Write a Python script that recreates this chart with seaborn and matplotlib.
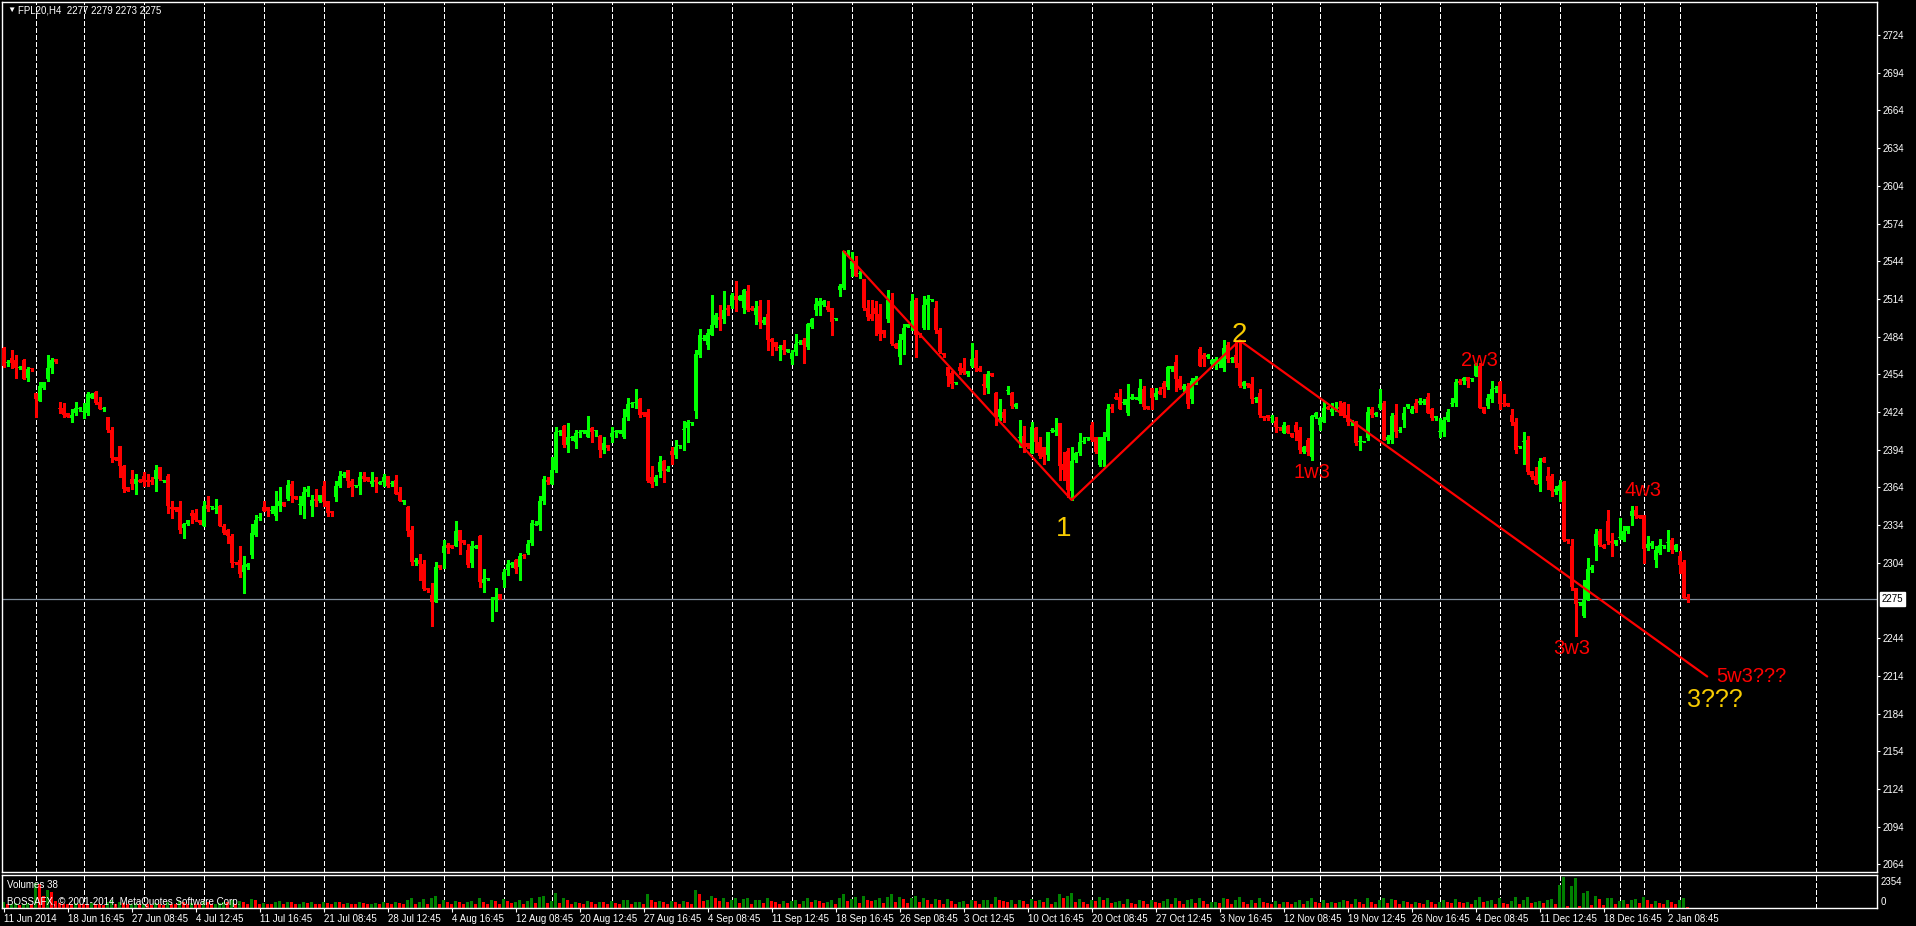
import numpy as np
import pandas as pd
import matplotlib
matplotlib.use("Agg")
import matplotlib.pyplot as plt
import seaborn as sns

# H4 candles of FPL20, 11 Jun 2014 -> 5 Jan 2015
OPEN = [
    2475, 2463, 2467, 2465, 2459, 2465, 2451, 2459, 2439, 2433, 2443, 2450, 2459, 2466, 2427, 2427,
    2423, 2419, 2423, 2426, 2424, 2423, 2435, 2440, 2432, 2426, 2420, 2410, 2388, 2397, 2381, 2364,
    2371, 2367, 2370, 2373, 2370, 2370, 2371, 2380, 2369, 2373, 2348, 2348, 2348, 2332, 2335, 2344,
    2344, 2338, 2333, 2350, 2348, 2347, 2349, 2333, 2330, 2325, 2305, 2306, 2297, 2301, 2310, 2326,
    2340, 2348, 2348, 2345, 2341, 2349, 2352, 2355, 2367, 2357, 2350, 2349, 2360, 2349, 2355, 2353,
    2365, 2353, 2345, 2356, 2365, 2373, 2378, 2369, 2365, 2365, 2373, 2372, 2367, 2370, 2367, 2368,
    2373, 2367, 2370, 2360, 2352, 2348, 2330, 2305, 2306, 2303, 2284, 2278, 2273, 2302, 2312, 2318,
    2318, 2317, 2330, 2322, 2314, 2304, 2316, 2325, 2288, 2291, 2274, 2274, 2279, 2290, 2298, 2302,
    2306, 2301, 2310, 2312, 2320, 2334, 2334, 2353, 2370, 2367, 2378, 2408, 2413, 2398, 2403, 2400,
    2407, 2408, 2404, 2411, 2409, 2405, 2394, 2398, 2404, 2408, 2407, 2404, 2420, 2430, 2431, 2434,
    2424, 2424, 2372, 2368, 2376, 2385, 2377, 2393, 2390, 2397, 2410, 2411, 2415, 2425, 2469, 2482,
    2477, 2485, 2493, 2500, 2498, 2507, 2508, 2516, 2513, 2507, 2520, 2507, 2501, 2508, 2495, 2502,
    2482, 2480, 2475, 2477, 2472, 2466, 2472, 2479, 2481, 2476, 2492, 2505, 2508, 2509, 2508, 2507,
    2498, 2521, 2523, 2550, 2538, 2544, 2534, 2530, 2507, 2502, 2507, 2502, 2489, 2498, 2513, 2478,
    2468, 2481, 2492, 2497, 2513, 2487, 2491, 2509, 2513, 2507, 2489, 2471, 2460, 2455, 2447, 2460,
    2459, 2454, 2461, 2467, 2459, 2446, 2443, 2455, 2439, 2420, 2424, 2441, 2439, 2428, 2403, 2405,
    2399, 2391, 2411, 2400, 2396, 2390, 2409, 2408, 2415, 2383, 2393, 2361, 2386, 2391, 2400, 2403,
    2414, 2404, 2382, 2386, 2404, 2428, 2436, 2436, 2431, 2423, 2434, 2434, 2433, 2442, 2429, 2443,
    2436, 2441, 2447, 2444, 2458, 2464, 2450, 2442, 2445, 2434, 2447, 2474, 2469, 2468, 2462, 2463,
    2462, 2459, 2477, 2466, 2469, 2463, 2445, 2447, 2446, 2434, 2439, 2421, 2422, 2419, 2417, 2412,
    2407, 2413, 2407, 2414, 2410, 2392, 2402, 2388, 2420, 2414, 2416, 2428, 2424, 2426, 2428, 2431,
    2422, 2416, 2416, 2400, 2400, 2403, 2426, 2422, 2427, 2431, 2402, 2402, 2422, 2409, 2418, 2428,
    2423, 2431, 2431, 2431, 2436, 2426, 2419, 2408, 2408, 2418, 2430, 2431, 2449, 2449, 2452, 2450,
    2453, 2461, 2428, 2429, 2434, 2442, 2448, 2431, 2431, 2422, 2416, 2396, 2400, 2402, 2377, 2373,
    2367, 2387, 2373, 2373, 2360, 2361, 2368, 2323, 2317, 2284, 2272, 2262, 2274, 2298, 2317, 2329,
    2318, 2337, 2321, 2319, 2324, 2322, 2329, 2341, 2346, 2342, 2342, 2316, 2317, 2306, 2312, 2317,
    2320, 2322, 2314, 2309, 2305, 2277,
]
HIGH = [
    2476, 2465, 2473, 2469, 2461, 2466, 2460, 2459, 2439, 2448, 2448, 2469, 2467, 2466, 2432, 2431,
    2423, 2426, 2432, 2428, 2431, 2440, 2439, 2441, 2436, 2428, 2420, 2412, 2388, 2397, 2382, 2364,
    2378, 2375, 2371, 2376, 2375, 2372, 2382, 2380, 2370, 2375, 2353, 2348, 2353, 2336, 2338, 2346,
    2347, 2338, 2353, 2357, 2349, 2355, 2350, 2335, 2331, 2327, 2305, 2317, 2309, 2304, 2335, 2342,
    2344, 2353, 2348, 2349, 2361, 2364, 2352, 2370, 2369, 2357, 2357, 2364, 2365, 2358, 2363, 2358,
    2369, 2353, 2345, 2369, 2377, 2376, 2378, 2371, 2366, 2376, 2376, 2372, 2376, 2372, 2369, 2375,
    2373, 2369, 2374, 2364, 2354, 2349, 2333, 2308, 2311, 2306, 2284, 2288, 2305, 2302, 2322, 2320,
    2318, 2337, 2330, 2322, 2319, 2321, 2318, 2326, 2299, 2292, 2277, 2284, 2279, 2299, 2306, 2305,
    2307, 2312, 2311, 2322, 2338, 2337, 2357, 2373, 2372, 2388, 2412, 2410, 2414, 2415, 2405, 2410,
    2410, 2410, 2421, 2412, 2410, 2406, 2404, 2398, 2412, 2410, 2410, 2426, 2435, 2432, 2442, 2435,
    2424, 2426, 2381, 2374, 2389, 2386, 2381, 2396, 2402, 2398, 2417, 2418, 2416, 2473, 2490, 2485,
    2490, 2517, 2503, 2509, 2520, 2509, 2519, 2528, 2517, 2522, 2525, 2508, 2512, 2513, 2500, 2513,
    2483, 2480, 2477, 2481, 2474, 2473, 2486, 2481, 2483, 2495, 2499, 2515, 2515, 2513, 2512, 2507,
    2499, 2526, 2552, 2553, 2551, 2548, 2536, 2530, 2513, 2513, 2512, 2510, 2489, 2521, 2519, 2479,
    2486, 2494, 2494, 2518, 2515, 2487, 2516, 2517, 2514, 2512, 2491, 2471, 2460, 2457, 2448, 2463,
    2467, 2457, 2479, 2473, 2461, 2454, 2457, 2455, 2440, 2434, 2426, 2445, 2440, 2431, 2418, 2413,
    2399, 2416, 2412, 2404, 2396, 2408, 2411, 2419, 2415, 2392, 2395, 2396, 2392, 2407, 2404, 2404,
    2416, 2404, 2404, 2408, 2430, 2430, 2439, 2442, 2434, 2446, 2438, 2436, 2450, 2445, 2429, 2443,
    2443, 2444, 2449, 2461, 2461, 2469, 2453, 2446, 2447, 2451, 2453, 2476, 2471, 2470, 2466, 2468,
    2467, 2481, 2480, 2468, 2480, 2481, 2449, 2447, 2452, 2436, 2442, 2421, 2422, 2422, 2420, 2412,
    2416, 2414, 2407, 2416, 2412, 2397, 2403, 2422, 2424, 2420, 2432, 2429, 2431, 2432, 2433, 2432,
    2430, 2418, 2417, 2405, 2401, 2428, 2428, 2424, 2442, 2433, 2406, 2423, 2430, 2412, 2428, 2430,
    2429, 2434, 2435, 2434, 2439, 2427, 2421, 2419, 2420, 2426, 2435, 2450, 2450, 2452, 2452, 2451,
    2463, 2463, 2428, 2438, 2449, 2445, 2449, 2438, 2431, 2426, 2419, 2397, 2408, 2405, 2377, 2380,
    2387, 2388, 2380, 2375, 2365, 2370, 2369, 2323, 2323, 2284, 2273, 2290, 2308, 2302, 2331, 2331,
    2319, 2346, 2328, 2322, 2340, 2333, 2333, 2349, 2349, 2342, 2342, 2325, 2321, 2317, 2323, 2318,
    2330, 2324, 2319, 2313, 2306, 2279,
]
LOW = [
    2460, 2461, 2459, 2451, 2458, 2450, 2449, 2457, 2420, 2433, 2442, 2449, 2455, 2463, 2423, 2420,
    2420, 2416, 2422, 2425, 2419, 2422, 2435, 2430, 2426, 2425, 2408, 2384, 2386, 2372, 2360, 2361,
    2363, 2359, 2368, 2365, 2365, 2367, 2361, 2370, 2368, 2344, 2340, 2345, 2328, 2324, 2334, 2336,
    2337, 2335, 2333, 2345, 2347, 2344, 2333, 2327, 2320, 2301, 2303, 2293, 2280, 2299, 2308, 2325,
    2338, 2345, 2341, 2344, 2338, 2345, 2349, 2354, 2352, 2355, 2343, 2340, 2357, 2341, 2349, 2352,
    2349, 2341, 2341, 2353, 2364, 2372, 2364, 2357, 2364, 2359, 2369, 2369, 2365, 2360, 2367, 2365,
    2364, 2365, 2359, 2353, 2351, 2325, 2302, 2302, 2290, 2282, 2281, 2254, 2273, 2299, 2300, 2312,
    2316, 2317, 2311, 2319, 2301, 2301, 2316, 2285, 2281, 2290, 2258, 2266, 2275, 2285, 2294, 2301,
    2296, 2290, 2308, 2311, 2318, 2334, 2330, 2351, 2367, 2367, 2376, 2406, 2396, 2392, 2402, 2395,
    2404, 2407, 2404, 2400, 2405, 2388, 2391, 2394, 2400, 2404, 2407, 2403, 2418, 2428, 2427, 2420,
    2421, 2368, 2364, 2366, 2372, 2368, 2377, 2383, 2387, 2395, 2394, 2400, 2414, 2419, 2468, 2481,
    2474, 2485, 2492, 2489, 2495, 2501, 2507, 2504, 2513, 2503, 2504, 2505, 2494, 2491, 2494, 2473,
    2469, 2473, 2465, 2470, 2472, 2462, 2469, 2478, 2463, 2474, 2491, 2501, 2501, 2508, 2504, 2485,
    2497, 2516, 2522, 2548, 2532, 2532, 2531, 2505, 2497, 2497, 2485, 2481, 2484, 2496, 2477, 2475,
    2462, 2470, 2492, 2489, 2468, 2484, 2490, 2490, 2512, 2487, 2471, 2468, 2445, 2443, 2446, 2454,
    2454, 2453, 2460, 2457, 2457, 2438, 2439, 2453, 2414, 2418, 2416, 2438, 2427, 2427, 2396, 2392,
    2395, 2391, 2392, 2387, 2383, 2386, 2408, 2406, 2370, 2370, 2356, 2354, 2384, 2390, 2399, 2402,
    2401, 2391, 2381, 2381, 2402, 2424, 2434, 2426, 2430, 2422, 2434, 2434, 2431, 2426, 2426, 2426,
    2434, 2438, 2436, 2442, 2457, 2441, 2442, 2441, 2427, 2431, 2446, 2461, 2461, 2467, 2460, 2458,
    2460, 2457, 2464, 2464, 2460, 2444, 2443, 2444, 2431, 2432, 2420, 2418, 2418, 2416, 2408, 2410,
    2407, 2407, 2404, 2402, 2391, 2391, 2390, 2386, 2419, 2410, 2416, 2426, 2422, 2425, 2422, 2420,
    2414, 2414, 2398, 2394, 2400, 2402, 2420, 2421, 2426, 2402, 2399, 2399, 2404, 2408, 2412, 2427,
    2423, 2424, 2430, 2430, 2423, 2418, 2418, 2404, 2405, 2417, 2429, 2429, 2446, 2446, 2444, 2449,
    2453, 2427, 2423, 2427, 2432, 2440, 2426, 2429, 2429, 2414, 2391, 2395, 2383, 2375, 2371, 2367,
    2361, 2384, 2363, 2357, 2359, 2353, 2321, 2320, 2282, 2246, 2270, 2261, 2274, 2297, 2306, 2317,
    2316, 2319, 2309, 2318, 2323, 2321, 2328, 2334, 2340, 2340, 2304, 2314, 2316, 2301, 2311, 2316,
    2313, 2312, 2313, 2296, 2276, 2273,
]
CLOSE = [
    2461, 2463, 2463, 2459, 2460, 2450, 2458, 2458, 2434, 2445, 2448, 2459, 2465, 2464, 2426, 2422,
    2420, 2422, 2427, 2427, 2424, 2438, 2438, 2431, 2426, 2426, 2410, 2387, 2386, 2381, 2363, 2361,
    2367, 2371, 2368, 2368, 2368, 2368, 2378, 2371, 2369, 2349, 2347, 2346, 2330, 2335, 2338, 2341,
    2338, 2336, 2349, 2347, 2348, 2347, 2333, 2328, 2325, 2304, 2304, 2295, 2302, 2303, 2328, 2338,
    2340, 2345, 2345, 2345, 2349, 2353, 2349, 2366, 2357, 2355, 2350, 2360, 2363, 2354, 2353, 2358,
    2352, 2344, 2344, 2365, 2373, 2375, 2369, 2364, 2365, 2372, 2371, 2369, 2369, 2368, 2368, 2372,
    2365, 2367, 2359, 2353, 2354, 2329, 2305, 2306, 2303, 2283, 2282, 2273, 2301, 2300, 2317, 2316,
    2316, 2329, 2321, 2320, 2302, 2317, 2317, 2289, 2291, 2291, 2274, 2277, 2275, 2297, 2303, 2304,
    2299, 2309, 2309, 2319, 2336, 2335, 2353, 2371, 2368, 2378, 2408, 2408, 2398, 2404, 2404, 2407,
    2407, 2410, 2410, 2408, 2409, 2394, 2399, 2395, 2407, 2408, 2410, 2419, 2430, 2431, 2432, 2422,
    2422, 2369, 2367, 2372, 2384, 2377, 2379, 2390, 2396, 2397, 2410, 2416, 2415, 2470, 2485, 2483,
    2487, 2493, 2501, 2497, 2505, 2505, 2517, 2513, 2516, 2521, 2505, 2505, 2507, 2496, 2497, 2481,
    2480, 2476, 2475, 2473, 2474, 2471, 2478, 2480, 2477, 2494, 2498, 2510, 2512, 2512, 2505, 2496,
    2498, 2524, 2552, 2550, 2544, 2532, 2534, 2507, 2500, 2498, 2502, 2486, 2486, 2513, 2478, 2475,
    2481, 2491, 2494, 2512, 2485, 2485, 2509, 2514, 2513, 2489, 2472, 2469, 2453, 2446, 2447, 2457,
    2455, 2457, 2466, 2459, 2457, 2445, 2454, 2453, 2420, 2426, 2419, 2441, 2429, 2430, 2404, 2396,
    2396, 2412, 2400, 2389, 2388, 2408, 2409, 2410, 2381, 2378, 2362, 2385, 2391, 2400, 2401, 2403,
    2402, 2392, 2404, 2404, 2426, 2426, 2434, 2426, 2431, 2434, 2436, 2436, 2443, 2428, 2426, 2435,
    2439, 2438, 2442, 2460, 2461, 2450, 2443, 2445, 2430, 2449, 2451, 2461, 2466, 2469, 2465, 2466,
    2465, 2475, 2466, 2466, 2463, 2445, 2448, 2445, 2434, 2434, 2422, 2419, 2419, 2419, 2412, 2411,
    2414, 2407, 2404, 2408, 2394, 2396, 2392, 2421, 2423, 2419, 2427, 2426, 2426, 2427, 2426, 2421,
    2416, 2416, 2399, 2400, 2400, 2424, 2422, 2423, 2430, 2402, 2404, 2421, 2408, 2409, 2423, 2430,
    2426, 2426, 2433, 2433, 2423, 2419, 2421, 2408, 2418, 2424, 2431, 2448, 2447, 2451, 2449, 2450,
    2462, 2427, 2423, 2435, 2442, 2442, 2430, 2430, 2429, 2416, 2394, 2397, 2401, 2376, 2372, 2367,
    2385, 2384, 2369, 2361, 2363, 2366, 2322, 2321, 2285, 2271, 2272, 2274, 2299, 2301, 2327, 2318,
    2316, 2321, 2320, 2322, 2324, 2329, 2333, 2345, 2341, 2340, 2315, 2319, 2320, 2314, 2318, 2318,
    2320, 2314, 2318, 2302, 2276, 2275,
]
VOLUME = [
    400, 250, 300, 350, 200, 300, 350, 250, 1900, 1750, 900, 1300, 1200, 500, 350, 300,
    300, 250, 350, 300, 300, 250, 350, 300, 250, 200, 400, 550, 300, 450, 350, 250,
    300, 350, 250, 300, 250, 200, 350, 300, 200, 450, 300, 250, 500, 400, 300, 350,
    300, 250, 500, 400, 250, 300, 350, 450, 400, 550, 250, 500, 450, 300, 650, 550,
    300, 350, 300, 250, 400, 500, 300, 450, 400, 250, 300, 450, 350, 400, 300, 250,
    400, 350, 250, 450, 400, 300, 350, 300, 250, 400, 350, 250, 300, 350, 250, 400,
    350, 250, 400, 350, 250, 600, 750, 300, 450, 650, 300, 700, 900, 300, 550, 400,
    300, 500, 400, 250, 450, 500, 300, 700, 450, 250, 600, 500, 300, 650, 500, 350,
    400, 550, 300, 500, 700, 350, 800, 900, 350, 500, 1100, 350, 700, 600, 300, 450,
    350, 300, 500, 400, 300, 450, 400, 300, 500, 350, 300, 550, 600, 300, 400, 450,
    300, 1000, 600, 400, 500, 450, 300, 500, 400, 250, 500, 450, 300, 1300, 1000, 500,
    600, 900, 700, 500, 750, 400, 600, 700, 350, 650, 700, 300, 550, 600, 350, 700,
    500, 450, 300, 500, 350, 500, 550, 300, 500, 700, 450, 550, 500, 350, 450, 550,
    300, 700, 1000, 500, 650, 800, 350, 900, 600, 500, 550, 700, 350, 800, 1000, 400,
    800, 650, 350, 750, 900, 400, 700, 550, 300, 650, 600, 300, 650, 500, 300, 450,
    500, 300, 600, 500, 300, 550, 600, 300, 800, 600, 500, 450, 550, 300, 550, 500,
    300, 650, 500, 550, 400, 700, 300, 450, 1000, 700, 900, 1100, 400, 650, 400, 300,
    550, 500, 800, 600, 700, 350, 450, 500, 300, 650, 350, 300, 600, 500, 300, 550,
    400, 350, 500, 650, 300, 700, 500, 300, 600, 650, 350, 700, 500, 300, 400, 450,
    350, 700, 650, 300, 550, 800, 400, 300, 600, 350, 700, 400, 350, 300, 500, 300,
    450, 400, 250, 450, 600, 300, 500, 750, 400, 350, 600, 350, 400, 350, 400, 550,
    500, 300, 650, 450, 300, 700, 450, 300, 550, 700, 350, 650, 600, 300, 500, 400,
    300, 450, 350, 300, 550, 450, 300, 400, 550, 450, 350, 650, 400, 350, 400, 300,
    600, 800, 400, 500, 600, 300, 700, 350, 300, 500, 800, 300, 600, 800, 350, 450,
    500, 350, 600, 650, 300, 1674, 2354, 150, 1620, 2220, 150, 1100, 1280, 200, 840, 650,
    200, 700, 760, 300, 500, 600, 300, 600, 650, 350, 800, 550, 300, 500, 350, 300,
    550, 450, 300, 600, 700, 38,
]

# bottom time axis: one label every 16 bars
DATE_LABELS = [
    "11 Jun 2014", "18 Jun 16:45", "27 Jun 08:45", "4 Jul 12:45", "11 Jul 16:45",
    "21 Jul 08:45", "28 Jul 12:45", "4 Aug 16:45", "12 Aug 08:45", "20 Aug 12:45",
    "27 Aug 16:45", "4 Sep 08:45", "11 Sep 12:45", "18 Sep 16:45", "26 Sep 08:45",
    "3 Oct 12:45", "10 Oct 16:45", "20 Oct 08:45", "27 Oct 12:45", "3 Nov 16:45",
    "12 Nov 08:45", "19 Nov 12:45", "26 Nov 16:45", "4 Dec 08:45", "11 Dec 12:45",
    "18 Dec 16:45", "2 Jan 08:45",
]
DATE_BARS = list(range(0, 417, 16))
# first bar of each trading week (dashed separators)
WEEK_BARS = [8, 20, 35, 50, 65, 80, 95, 110, 125, 137, 152, 167, 182, 197, 212, 227, 242,
             257, 272, 287, 302, 317, 329, 344, 359, 374, 389, 404, 410, 419, 453]
PRICE_TICKS = [2064, 2094, 2124, 2154, 2184, 2214, 2244, 2304, 2334, 2364, 2394, 2424,
               2454, 2484, 2514, 2544, 2574, 2604, 2634, 2664, 2694, 2724]
LAST_PRICE = 2275
VOL_MAX = 2354

# hand drawn wave line and labels
WAVE_BAR = [210, 267, 309, 425.9]
WAVE_PRICE = [2552, 2354, 2481, 2213.5]
LABEL_TEXT = ["1", "2", "1w3", "2w3", "3w3", "4w3", "5w3???", "3???"]
LABEL_BAR = [264.9, 308.9, 327.0, 368.9, 392.0, 409.9, 436.9, 427.9]
LABEL_PRICE = [2325.3, 2479.9, 2371.7, 2460.6, 2231.3, 2357.1, 2209.3, 2189.4]

YELLOW = "#F7CB00"
RED = "#FF0000"
LABEL_COLOR = [YELLOW, YELLOW, RED, RED, RED, RED, RED, YELLOW]
LABEL_SIZE = [20, 20, 14.5, 14.5, 14.5, 14.5, 14.5, 18]

sns.set_theme(style="dark", rc={
    "figure.facecolor": "black", "axes.facecolor": "black",
    "axes.edgecolor": "white", "text.color": "white",
    "xtick.color": "white", "ytick.color": "white",
    "lines.scale_dashes": False,
})
plt.rcParams["font.family"] = ["Liberation Sans", "DejaVu Sans"]

W, H = 1916, 926
fig = plt.figure(figsize=(W / 100, H / 100), dpi=100)


def px_box(x0, y0, x1, y1):
    return [x0 / W, 1 - y1 / H, (x1 - x0) / W, (y1 - y0) / H]


ax = fig.add_axes(px_box(2, 2, 1877, 872))
axv = fig.add_axes(px_box(2, 875, 1877, 907.5))

df = pd.DataFrame({"open": OPEN, "high": HIGH, "low": LOW, "close": CLOSE, "volume": VOLUME})
df["bar"] = np.arange(len(df))
up = df["close"] >= df["open"]
candle_col = np.where(up, "#00FF00", "#FF0000")
df["vdir"] = np.where(df["volume"] > df["volume"].shift(1).fillna(0), "up", "down")

# week separators
dash = (0, (2.9, 1.45))
for b in WEEK_BARS:
    for a in (ax, axv):
        a.axvline(b, color="white", lw=0.8, linestyle=dash, antialiased=False, zorder=1)

# candles
ax.vlines(df["bar"], df["low"], df["high"], colors=candle_col, linewidth=0.8,
          antialiased=False, zorder=3)
body_low = np.minimum(df["open"], df["close"])
body_h = np.maximum((df["close"] - df["open"]).abs(), 0.8)
ax.bar(df["bar"], body_h, bottom=body_low, width=0.7, color=candle_col, linewidth=0,
       antialiased=False, zorder=4)

ax.axhline(LAST_PRICE, color="#7F8C9A", lw=0.9, zorder=2)

# wave line + labels
ax.plot(WAVE_BAR, WAVE_PRICE, color=RED, lw=1.6, zorder=6)
for t, xb, yp, c, s in zip(LABEL_TEXT, LABEL_BAR, LABEL_PRICE, LABEL_COLOR, LABEL_SIZE):
    ax.text(xb, yp, t, color=c, fontsize=s, ha="center", va="baseline", zorder=7)

x_lim = (-0.4, 468.35)
ax.set_xlim(*x_lim)
ax.set_ylim(2057.9, 2750.3)
ax.set_xticks([])
ax.yaxis.tick_right()
ax.set_yticks(PRICE_TICKS)
ax.set_yticklabels([str(p) for p in PRICE_TICKS])
ax.tick_params(axis="y", right=True, colors="white", labelsize=7, length=2.5, width=0.8,
               pad=1.5, direction="out")
ax.annotate(str(LAST_PRICE), xy=(1.0, LAST_PRICE), xycoords=("axes fraction", "data"),
            xytext=(3.5, 0), textcoords="offset points", ha="left", va="center",
            fontsize=7, color="black",
            bbox=dict(boxstyle="square,pad=0.2", fc="white", ec="white"))

# volume panel
sns.barplot(data=df, x="bar", y="volume", hue="vdir",
            palette={"up": "#008000", "down": "#FF0000"}, native_scale=True,
            dodge=False, width=0.7, saturation=1, errorbar=None, legend=False,
            linewidth=0, ax=axv)
axv.set_xlim(*x_lim)
axv.set_ylim(0, VOL_MAX * 1.05)
axv.set_xlabel("")
axv.set_ylabel("")
axv.set_yticks([])
axv.set_xticks(DATE_BARS)
axv.set_xticklabels(DATE_LABELS, ha="left")
axv.tick_params(axis="x", bottom=True, colors="white", labelsize=7, length=3, width=0.8,
                pad=1.5, direction="out")

for a in (ax, axv):
    for sp in a.spines.values():
        sp.set_color("white")
        sp.set_linewidth(1)
        sp.set_visible(True)

# texts in the panels
fig.text(7 / W, 1 - 10.5 / H, "\u25bc", fontsize=6, color="white", va="center", ha="left")
fig.text(18 / W, 1 - 10.5 / H, "FPL20,H4  2277 2279 2273 2275", fontsize=7,
         color="white", va="center", ha="left")
fig.text(7 / W, 1 - 884.5 / H, f"Volumes {VOLUME[-1]}", fontsize=7, color="white",
         va="center", ha="left")
fig.text(7 / W, 1 - 902 / H, "BOSSAFX, \u00a9 2001-2014, MetaQuotes Software Corp.",
         fontsize=7, color="white", va="center", ha="left")
fig.text(1881 / W, 1 - 881.7 / H, str(VOL_MAX), fontsize=7, color="white",
         va="center", ha="left")
fig.text(1881 / W, 1 - 901.7 / H, "0", fontsize=7, color="white", va="center", ha="left")

fig.savefig("out.png", dpi=100, facecolor="black")
